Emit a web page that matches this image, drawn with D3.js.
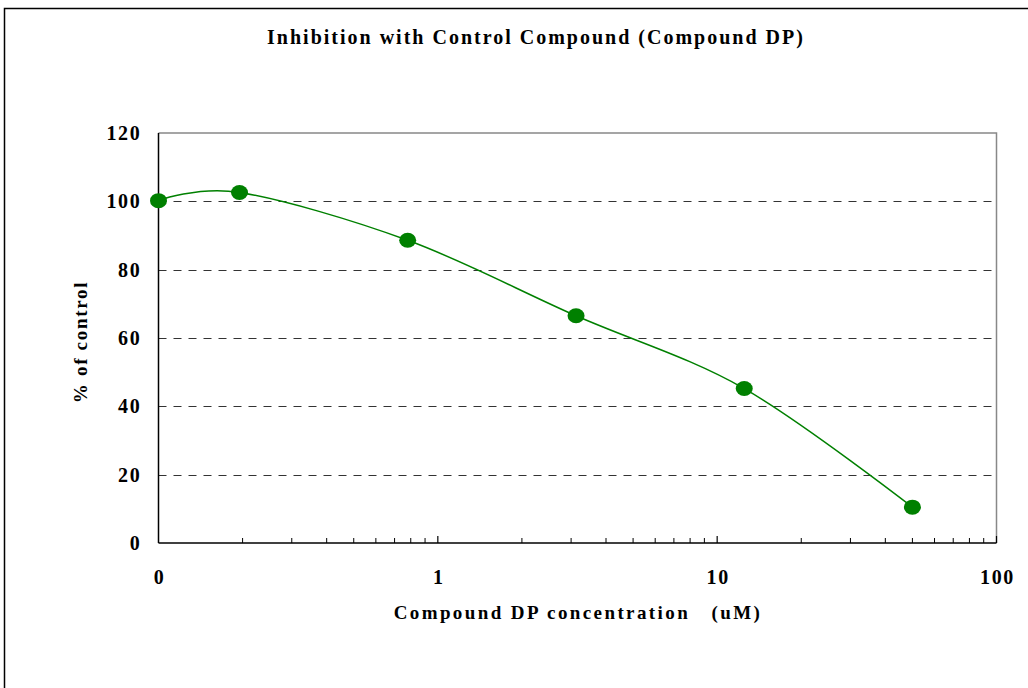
<!DOCTYPE html>
<html>
<head>
<meta charset="utf-8">
<script src="https://cdn.jsdelivr.net/npm/d3@7"></script>
<style>
  body { margin: 0; background: #fff; }
  text { font-family: "Liberation Serif", "Times New Roman", serif; font-weight: bold; fill: #000; }
</style>
</head>
<body>
<div id="chart"></div>
<script>
// concentrations (uM) and % of control
const conc = [0.1, 0.195, 0.78, 3.125, 12.5, 50];
const pct = [100.2, 102.6, 88.6, 66.5, 45.2, 10.5];
const xTicks = [0.1, 1, 10, 100];
const xTickLabels = ["0", "1", "10", "100"];
const yTicks = [0, 20, 40, 60, 80, 100, 120];

const width = 1028;
const height = 688;
const margin = { top: 133, right: 31.5, bottom: 145, left: 158.5 };

const svg = d3.select("#chart")
    .append("svg")
    .attr("width", width)
    .attr("height", height);

// outer chart border (runs off the right and bottom)
svg.append("path")
    .attr("d", `M4.5,${height} V8.5 H${width}`)
    .attr("fill", "none")
    .attr("stroke", "#000")
    .attr("stroke-width", 1.5);

const x = d3.scaleLog()
    .domain([0.1, 100])
    .range([margin.left, width - margin.right]);

const y = d3.scaleLinear()
    .domain([0, 120])
    .range([height - margin.bottom, margin.top]);

const x0 = x.range()[0], x1 = x.range()[1];
const y0 = y.range()[0], y1 = y.range()[1];

// gridlines
svg.selectAll(".grid")
    .data(yTicks.filter(d => d > 0 && d < 120))
    .enter()
    .append("line")
    .attr("class", "grid")
    .attr("x1", x0)
    .attr("x2", x1)
    .attr("y1", d => Math.round(y(d)) + 0.5)
    .attr("y2", d => Math.round(y(d)) + 0.5)
    .attr("stroke", "#333")
    .attr("stroke-dasharray", "8 7");

// gray top and right plot border
svg.append("path")
    .attr("d", `M${x0},${y1} H${x1} V${y0}`)
    .attr("fill", "none")
    .attr("stroke", "#888")
    .attr("stroke-width", 1.5);

// y axis
svg.append("line")
    .attr("x1", x0).attr("x2", x0)
    .attr("y1", y1).attr("y2", y0)
    .attr("stroke", "#000").attr("stroke-width", 1.5);

svg.selectAll(".ylabel")
    .data(yTicks)
    .enter()
    .append("text")
    .attr("class", "ylabel")
    .attr("x", 141.5)
    .attr("y", d => y(d) + 7)
    .attr("text-anchor", "end")
    .style("font-size", "20px")
    .style("letter-spacing", "1.7px")
    .text(d => d);

// x axis with minor ticks pointing up
svg.append("line")
    .attr("x1", x0).attr("x2", x1)
    .attr("y1", y0).attr("y2", y0)
    .attr("stroke", "#000").attr("stroke-width", 1.5);

const minor = [];
[0.1, 1, 10].forEach(dec => {
    for (let k = 2; k <= 9; k++) minor.push(dec * k);
});

svg.selectAll(".minor")
    .data(minor)
    .enter()
    .append("line")
    .attr("class", "minor")
    .attr("x1", d => x(d)).attr("x2", d => x(d))
    .attr("y1", y0).attr("y2", y0 - 5)
    .attr("stroke", "#000");

svg.selectAll(".major")
    .data(xTicks.slice(1))
    .enter()
    .append("line")
    .attr("class", "major")
    .attr("x1", d => x(d)).attr("x2", d => x(d))
    .attr("y1", y0).attr("y2", y0 - 7)
    .attr("stroke", "#000").attr("stroke-width", 1.2);

svg.selectAll(".xlabel")
    .data(xTicks)
    .enter()
    .append("text")
    .attr("class", "xlabel")
    .attr("x", d => x(d) + 1)
    .attr("y", 584)
    .attr("text-anchor", "middle")
    .style("font-size", "20px")
    .style("letter-spacing", "1.7px")
    .text((d, i) => xTickLabels[i]);

// smoothed curve and markers
const pts = conc.map((c, i) => [x(c), y(pct[i])]);

svg.append("path")
    .datum(pts)
    .attr("d", d3.line().curve(d3.curveCatmullRom.alpha(0)))
    .attr("fill", "none")
    .attr("stroke", "#008000")
    .attr("stroke-width", 1.5);

svg.selectAll(".dot")
    .data(pts)
    .enter()
    .append("ellipse")
    .attr("class", "dot")
    .attr("cx", d => d[0])
    .attr("cy", d => d[1])
    .attr("rx", 8.5)
    .attr("ry", 7.5)
    .attr("fill", "#008000");

// titles
svg.append("text")
    .attr("x", 536)
    .attr("y", 44)
    .attr("text-anchor", "middle")
    .style("font-size", "20px")
    .style("letter-spacing", "2px")
    .text("Inhibition with Control Compound (Compound DP)");

svg.append("text")
    .attr("x", 578)
    .attr("y", 619)
    .attr("text-anchor", "middle")
    .style("font-size", "19px")
    .style("letter-spacing", "2.4px")
    .style("white-space", "pre")
    .text("Compound DP concentration   (uM)");

svg.append("text")
    .attr("transform", `translate(87, ${(y0 + y1) / 2 + 4}) rotate(-90)`)
    .attr("text-anchor", "middle")
    .style("font-size", "19px")
    .style("letter-spacing", "1.7px")
    .text("% of control");
</script>
</body>
</html>
